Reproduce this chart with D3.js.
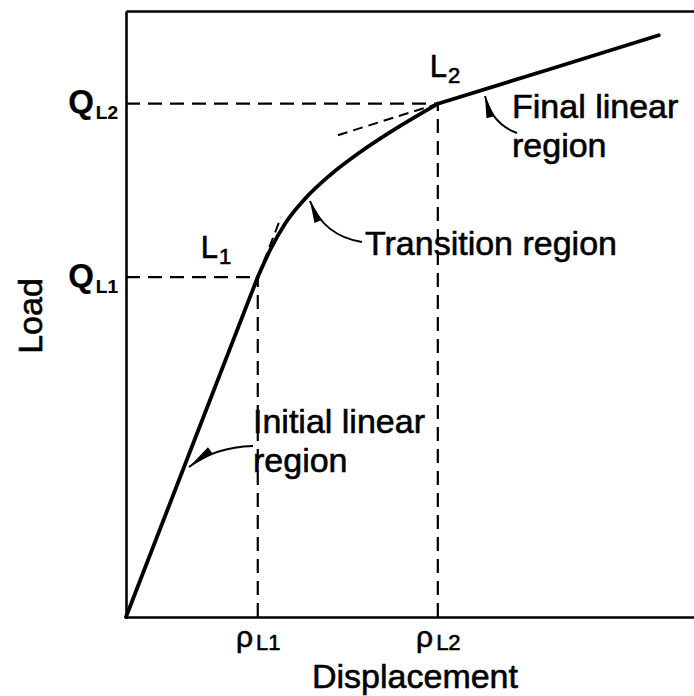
<!DOCTYPE html>
<html>
<head>
<meta charset="utf-8">
<script src="https://cdn.jsdelivr.net/npm/d3@7"></script>
<style>
  body { margin: 0; background: #fff; }
  text { font-family: "Liberation Sans", Arial, sans-serif; fill: #000; stroke: #000; stroke-width: 0.6px; }
</style>
</head>
<body>
<div id="chart"></div>
<script>
// load - displacement curve (arbitrary units, 0-100)
var displacement = [0, 11.6, 23.2, 25.4, 28.0, 31.5, 35.9, 41.2, 48.2, 54.9, 74.3, 93.8];
var load         = [0, 28.1, 56.1, 60.6, 64.9, 69.0, 72.9, 76.7, 81.0, 84.7, 90.3, 96.0];

// the two break points L1 and L2
var pointNames = ["1", "2"];
var pointDisp = [23.2, 54.9];
var pointLoad = [56.1, 84.7];

// dashed tangent lines [x0, y0, x1, y1]
var tangentL1 = [23.2, 56.1, 27.3, 66.0];
var tangentL2 = [37.3, 79.5, 54.9, 84.7];

// set the dimensions and margins of the graph
var margin = {top: 11, right: 0, bottom: 79, left: 126},
    width = 694 - margin.left - margin.right,
    height = 696 - margin.top - margin.bottom;

var svg = d3.select("#chart")
  .append("svg")
    .attr("width", width + margin.left + margin.right)
    .attr("height", height + margin.top + margin.bottom)
  .append("g")
    .attr("transform", "translate(" + margin.left + "," + margin.top + ")");

var x = d3.scaleLinear().domain([0, 100]).range([0, width]);
var y = d3.scaleLinear().domain([0, 100]).range([height, 0]);

// axes (frame) - no real ticks, just the lines
var xAxis = svg.append("g")
    .attr("transform", "translate(0," + height + ")")
    .call(d3.axisBottom(x).tickValues(pointDisp).tickSize(0).tickFormat(""));
var yAxis = svg.append("g")
    .call(d3.axisLeft(y).tickValues(pointLoad).tickSize(0).tickFormat(""));
svg.append("g")
    .call(d3.axisTop(x).tickValues([]).tickSize(0));

svg.selectAll(".domain")
    .attr("stroke", "#000")
    .attr("stroke-width", 2.6);

// tick labels rho_L1, rho_L2
xAxis.selectAll(".tick").append("text")
    .attr("y", 30)
    .attr("text-anchor", "middle")
    .style("font-size", "30px")
    .each(function(d, i) {
      var t = d3.select(this);
      t.append("tspan").text("ρ");
      t.append("tspan").attr("dx", 3).attr("dy", 3).style("font-size", "22px").text("L" + pointNames[i]);
    });

// tick labels Q_L1, Q_L2
yAxis.selectAll(".tick").append("text")
    .attr("x", -8)
    .attr("y", 9)
    .attr("text-anchor", "end")
    .style("font-size", "33px")
    .style("font-weight", "bold")
    .style("stroke-width", "0.2px")
    .each(function(d, i) {
      var t = d3.select(this);
      t.append("tspan").text("Q");
      t.append("tspan").attr("dx", 2).attr("dy", 6).style("font-size", "19px").text("L" + pointNames[i]);
    });

// dashed guide lines from the break points to the axes
var dash = "14,8";
pointDisp.forEach(function(px, i) {
  svg.append("line")
    .attr("x1", x(0)).attr("y1", y(pointLoad[i]))
    .attr("x2", x(px)).attr("y2", y(pointLoad[i]))
    .attr("stroke", "#000").attr("stroke-width", 2.2).attr("stroke-dasharray", dash);
  svg.append("line")
    .attr("x1", x(px)).attr("y1", y(0))
    .attr("x2", x(px)).attr("y2", y(pointLoad[i]))
    .attr("stroke", "#000").attr("stroke-width", 2.2).attr("stroke-dasharray", dash);
});

[tangentL1, tangentL2].forEach(function(t) {
  svg.append("line")
    .attr("x1", x(t[0])).attr("y1", y(t[1]))
    .attr("x2", x(t[2])).attr("y2", y(t[3]))
    .attr("stroke", "#000").attr("stroke-width", 2).attr("stroke-dasharray", "10,6");
});

// the curve: straight initial part, smooth transition, straight final part
var pts = displacement.map(function(d, i) { return [x(d), y(load[i])]; });
var pieces = [
  [pts.slice(0, 3), d3.curveLinear],
  [pts.slice(2, 10), d3.curveMonotoneX],
  [pts.slice(9), d3.curveLinear]
];
pieces.forEach(function(p) {
  svg.append("path")
      .attr("d", d3.line().curve(p[1])(p[0]))
      .attr("fill", "none")
      .attr("stroke", "#000")
      .attr("stroke-width", 3.8)
      .attr("stroke-linecap", "round");
});

// L1 / L2 labels
pointDisp.forEach(function(px, i) {
  var off = i == 0 ? [-57, -19] : [-8, -27];
  var t = svg.append("text")
    .attr("x", x(px) + off[0])
    .attr("y", y(pointLoad[i]) + off[1])
    .style("font-size", "31px");
  t.append("tspan").text("L");
  t.append("tspan").attr("dx", 1).attr("dy", 6).style("font-size", "22px").text(pointNames[i]);
});

// annotation text (pixel positions inside the plot group)
function label(lines, px, py) {
  lines.forEach(function(s, k) {
    svg.append("text")
      .attr("x", px - margin.left)
      .attr("y", py - margin.top + k * 39)
      .style("font-size", "34px")
      .text(s);
  });
}
label(["Final linear", "region"], 512, 118);
label(["Transition region"], 365, 255);
label(["Initial linear", "region"], 253, 433);

// leader arrows: start, control, tip (page pixels)
function arrow(s, c, tip, len) {
  var sx = s[0] - margin.left, sy = s[1] - margin.top,
      cx = c[0] - margin.left, cy = c[1] - margin.top,
      tx = tip[0] - margin.left, ty = tip[1] - margin.top;
  svg.append("path")
    .attr("d", "M" + sx + "," + sy + "Q" + cx + "," + cy + " " + tx + "," + ty)
    .attr("fill", "none").attr("stroke", "#000").attr("stroke-width", 2);
  var dx = tx - cx, dy = ty - cy, n = Math.sqrt(dx * dx + dy * dy);
  dx /= n; dy /= n;
  var bx = tx - dx * len, by = ty - dy * len;
  svg.append("path")
    .attr("d", "M" + tx + "," + ty + "L" + (bx - dy * 4) + "," + (by + dx * 4) +
               "L" + (bx + dy * 4) + "," + (by - dx * 4) + "Z")
    .attr("fill", "#000");
}
arrow([253, 446], [215, 447], [189, 467], 27);
arrow([362, 242], [324, 236], [310, 201], 22);
arrow([517, 133], [492, 124], [485, 96], 22);

// axis titles
svg.append("text")
    .attr("transform", "translate(" + (42 - margin.left) + "," + (316 - margin.top) + ")rotate(-90)")
    .attr("text-anchor", "middle")
    .style("font-size", "34px")
    .text("Load");

svg.append("text")
    .attr("x", 415 - margin.left)
    .attr("y", 688 - margin.top)
    .attr("text-anchor", "middle")
    .style("font-size", "34px")
    .text("Displacement");
</script>
</body>
</html>
